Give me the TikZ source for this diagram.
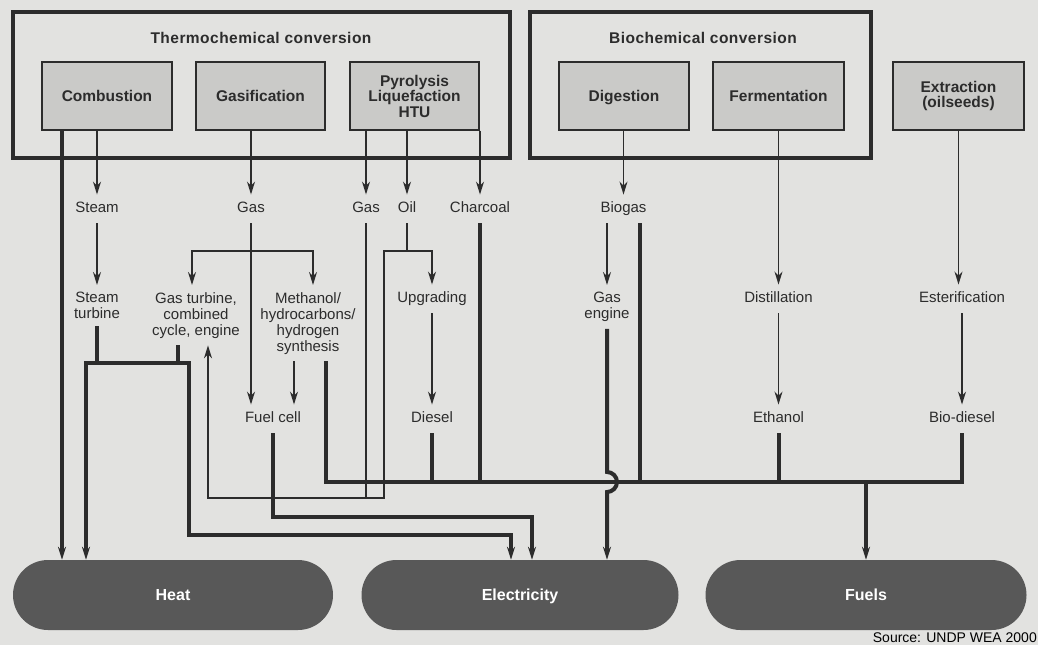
\documentclass[tikz,border=0pt]{standalone}
\usepackage{fontspec}
\setmainfont{Liberation Sans}
\newfontfamily\ttlfont[LetterSpace=3]{Liberation Sans}
\usetikzlibrary{arrows.meta,shapes.misc}
\definecolor{paper}{RGB}{226,226,224}
\definecolor{ink}{RGB}{44,44,44}
\definecolor{boxfill}{RGB}{202,202,200}
\definecolor{pillfill}{RGB}{88,88,88}
\begin{document}
\begin{tikzpicture}[x=1pt,y=-1pt,
  grp/.style={draw=ink,line width=4pt,inner sep=0pt,minimum height=146pt},
  ttl/.style={text=ink,font=\ttlfont\bfseries\fontsize{15.5}{18}\selectfont},
  proc/.style={draw=ink,line width=1.3pt,fill=boxfill,minimum height=68pt,inner sep=0pt,
    align=center,text=ink,font=\bfseries\fontsize{15.5}{15.5}\selectfont},
  lbl/.style={text=ink,font=\fontsize{15}{16}\selectfont,inner xsep=1pt,inner ysep=7pt,
    text height=11pt,text depth=3.5pt},
  mlbl/.style={text=ink,font=\fontsize{15}{16}\selectfont,align=center,inner xsep=1pt,
    inner ysep=7pt,anchor=north},
  sink/.style={rounded rectangle,fill=pillfill,minimum height=70pt,inner sep=0pt,text=white,
    text height=11.5pt,text depth=0pt,font=\bfseries\fontsize{16}{18}\selectfont},
  thn/.style={draw=ink,line width=1.5pt},
  thk/.style={draw=ink,line width=4pt},
  arr/.style={-{Stealth[length=13pt,width=8pt]}},
  arrs/.style={{Stealth[length=13pt,width=8pt]}-{Stealth[length=13pt,width=8pt]}}]

% paper and page frame
\fill[paper] (0,0) rectangle (1038,645);
\useasboundingbox (0,0) rectangle (1038,645);

% conversion groups
\node[grp,minimum width=497pt] (thermo) at (261.5,85) {};
\node[ttl] (thermoT) at (261,38) {Thermochemical conversion};
\node[grp,minimum width=341pt] (bio) at (700.5,85) {};
\node[ttl] (bioT) at (703,38) {Biochemical conversion};

% processes
\node[proc,minimum width=130pt] (comb) at (107,96) {Combustion};
\node[proc,minimum width=129pt] (gasif) at (260.5,96) {Gasification};
\node[proc,minimum width=129pt] (pyro) at (414.5,96) {Pyrolysis\\Liquefaction\\HTU};
\node[proc,minimum width=130pt,text depth=0pt] (dig) at (624,96) {Digestion};
\node[proc,minimum width=131pt] (ferm) at (778.5,96) {Fermentation};
\node[proc,minimum width=131pt] (extr) at (958.5,96) {Extraction\\(oilseeds)};

% intermediate products
\node[lbl] (steam) at (97,209) {Steam};
\node[lbl] (gasA) at (251,209) {Gas};
\node[lbl] (gasB) at (366,209) {Gas};
\node[lbl] (oil) at (407,209) {Oil};
\node[lbl] (char) at (480,209) {Charcoal};
\node[lbl] (biogas) at (623.5,209) {Biogas};

% conversion steps
\node[mlbl] (stturb) at (97,285) {Steam\\turbine};
\node[mlbl] (gasturb) at (196,285) {Gas turbine,\\combined\\cycle, engine};
\node[mlbl] (meth) at (308,285) {Methanol/\\hydrocarbons/\\hydrogen\\synthesis};
\node[lbl] (upgr) at (432,299) {Upgrading};
\node[mlbl] (gaseng) at (607,285) {Gas\\engine};
\node[lbl] (distil) at (778.5,299) {Distillation};
\node[lbl] (ester) at (962,299) {Esterification};

% end products before use
\node[lbl] (fuelcell) at (273,419) {Fuel cell};
\node[lbl] (diesel) at (432,419) {Diesel};
\node[lbl] (ethanol) at (778.5,419) {Ethanol};
\node[lbl] (biodiesel) at (962,419) {Bio-diesel};

% final uses
\node[sink,minimum width=320pt] (heat) at (173,595) {Heat};
\node[sink,minimum width=317pt] (elec) at (520,595) {Electricity};
\node[sink,minimum width=321pt] (fuels) at (866,595) {Fuels};

\node[anchor=base east,inner sep=0pt,text=black,font=\fontsize{14}{16}\selectfont] (src) at (1037,642) {Source: UNDP WEA 2000};

% routing points
\coordinate (ysplit) at (0,251);
\coordinate (gsplit) at (gasA.south |- ysplit);
\coordinate (osplit) at (oil.south |- ysplit);
\coordinate (gtbus) at (384,498);
\coordinate (tbL) at (86,363);
\coordinate (tbR) at (189,363);
\coordinate (eA) at (511,535);
\coordinate (eB) at (532,517);
\coordinate (fbus) at (866,482);
\coordinate (c0) at ([xshift=-45pt]comb.south);
\coordinate (gtA) at ([xshift=-18pt]gasturb.south);
\coordinate (mA) at ([xshift=-14pt]meth.south);
\coordinate (mB) at ([xshift=18pt]meth.south);
\coordinate (bgB) at ([xshift=16.5pt]biogas.south);
\coordinate (hop) at (gaseng.south |- fbus);

% thin flows
\draw[thn,arr] (comb.south -| steam) -- (steam.north);
\draw[thn,arr] (steam.south) -- (stturb.north);
\draw[thn,arr] (gasif.south -| gasA) -- (gasA.north);
\draw[thn,arr] (gasA.south) -- (gasA.south |- fuelcell.north);
\draw[thn,arr] (gsplit) -| ([xshift=-4pt]gasturb.north);
\draw[thn,arr] (gsplit) -| ([xshift=5pt]meth.north);
\draw[thn,arr] (mA) -- (mA |- fuelcell.north);
\draw[thn,arr] (pyro.south -| gasB) -- (gasB.north);
\draw[thn,arr] (pyro.south -| oil) -- (oil.north);
\draw[thn,arr] (pyro.south -| char) -- (char.north);
\draw[thn] (oil.south) -- (osplit);
\draw[thn,arr] (osplit) -| (upgr.north);
\draw[thn,arr] (osplit) -| (gtbus) -| ([xshift=12pt]gasturb.south);
\draw[thn] (gasB.south) -- (gasB.south |- gtbus);
\draw[thn,arr] (upgr.south) -- (diesel.north);
\draw[thn,arr] (dig.south -| biogas) -- (biogas.north);
\draw[thn,arr] (biogas.south -| gaseng) -- (gaseng.north);
\draw[thn,arr] (ferm.south -| distil) -- (distil.north);
\draw[thn,arr] (distil.south) -- (ethanol.north);
\draw[thn,arr] (extr.south) -- (extr.south |- ester.north);
\draw[thn,arr] (ester.south) -- (biodiesel.north);

% heat and electricity
\draw[thk,arr] (c0) -- (c0 |- heat.north);
\draw[thk] (stturb.south) -- (stturb.south |- tbL);
\draw[thk] (gtA) -- (gtA |- tbL);
\draw[thk,arrs] (tbL |- heat.north) -- (tbL) -- (tbR) |- (eA) -- (eA |- elec.north);
\draw[thk,arr] (fuelcell.south) |- (eB) -- (eB |- elec.north);
\draw[thk,arr] (gaseng.south) -- ([yshift=10pt]hop)
  arc[start angle=90,end angle=-90,radius=10pt] -- (hop |- elec.north);

% fuels collector
\draw[thk] (mB) |- (biodiesel.south |- fbus) -- (biodiesel.south);
\draw[thk] (diesel.south) -- (diesel.south |- fbus);
\draw[thk] (char.south) -- (char.south |- fbus);
\draw[thk] (bgB) -- (bgB |- fbus);
\draw[thk] (ethanol.south) -- (ethanol.south |- fbus);
\draw[thk,arr] (fuels.north |- fbus) -- (fuels.north);
\end{tikzpicture}
\end{document}
